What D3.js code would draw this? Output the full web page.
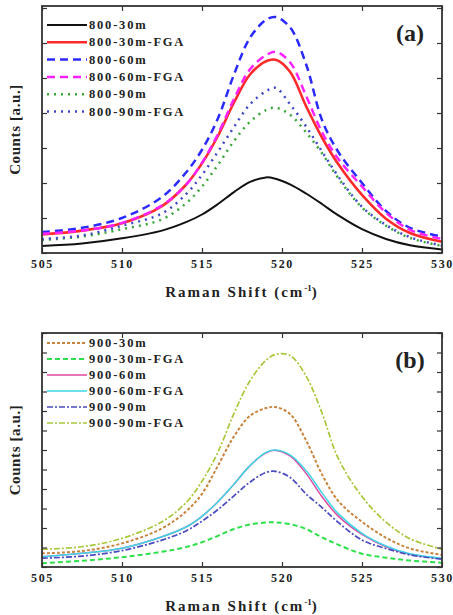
<!DOCTYPE html>
<html>
<head>
<meta charset="utf-8">
<script src="https://cdn.jsdelivr.net/npm/d3@7"></script>
<style>
  body { margin: 0; background: #fff; }
  svg text { font-family: "Liberation Serif", "Times New Roman", serif; font-weight: bold; fill: #222; }
</style>
</head>
<body>
<svg id="chart" width="453" height="615"></svg>
<script>
// Raman shift sample positions (cm^-1), shared by both panels
const ramanX = [505, 507.5, 510, 512.5, 514, 515, 516, 517, 518, 519, 519.6, 520.5, 521.5, 522.5, 523.5, 525, 526.5, 528, 530];

// panel (a) - 800 series, counts in a.u.
const s800_30m     = [0.20, 0.27, 0.42, 0.64, 0.88, 1.10, 1.40, 1.74, 2.03, 2.16, 2.12, 1.96, 1.70, 1.40, 1.08, 0.68, 0.40, 0.22, 0.10];
const s800_30mFGA  = [0.53, 0.64, 0.85, 1.34, 1.95, 2.56, 3.35, 4.30, 5.10, 5.48, 5.52, 5.18, 4.20, 3.30, 2.55, 1.66, 0.98, 0.57, 0.32];
const s800_60m     = [0.60, 0.72, 1.00, 1.60, 2.30, 2.95, 3.85, 5.10, 6.15, 6.66, 6.74, 6.45, 5.40, 3.80, 2.90, 2.00, 1.20, 0.72, 0.47];
const s800_60mFGA  = [0.55, 0.64, 0.86, 1.36, 1.95, 2.58, 3.40, 4.40, 5.25, 5.65, 5.75, 5.45, 4.50, 3.45, 2.70, 1.90, 1.15, 0.66, 0.40];
const s800_90m     = [0.37, 0.47, 0.68, 0.96, 1.42, 1.90, 2.52, 3.20, 3.75, 4.08, 4.15, 3.95, 3.45, 2.85, 2.15, 1.30, 0.78, 0.43, 0.20];
const s800_90mFGA  = [0.40, 0.50, 0.78, 1.13, 1.68, 2.23, 2.90, 3.60, 4.25, 4.62, 4.72, 4.25, 3.62, 2.90, 2.20, 1.32, 0.80, 0.45, 0.21];
const labelsA = ["800-30m", "800-30m-FGA", "800-60m", "800-60m-FGA", "800-90m", "800-90m-FGA"];

// panel (b) - 900 series
const s900_30m     = [0.70, 0.82, 1.21, 1.98, 2.85, 3.75, 5.20, 6.70, 7.75, 8.15, 8.20, 7.85, 6.50, 4.75, 3.40, 2.32, 1.50, 0.95, 0.62];
const s900_30mFGA  = [0.19, 0.32, 0.50, 0.78, 1.02, 1.27, 1.60, 1.95, 2.18, 2.28, 2.29, 2.20, 1.95, 1.52, 1.15, 0.68, 0.48, 0.33, 0.22];
const s900_60m     = [0.53, 0.70, 0.96, 1.55, 2.05, 2.60, 3.35, 4.25, 5.20, 5.85, 5.98, 5.70, 4.80, 3.60, 2.62, 1.67, 1.04, 0.65, 0.43];
const s900_60mFGA  = [0.53, 0.70, 0.96, 1.55, 2.05, 2.60, 3.35, 4.25, 5.20, 5.88, 6.00, 5.75, 4.95, 3.80, 2.75, 1.73, 1.08, 0.68, 0.45];
const s900_90m     = [0.45, 0.56, 0.84, 1.38, 1.85, 2.35, 2.95, 3.65, 4.35, 4.85, 4.90, 4.60, 3.75, 3.05, 2.30, 1.38, 0.95, 0.62, 0.40];
const s900_90mFGA  = [0.91, 1.04, 1.47, 2.32, 3.30, 4.40, 5.90, 7.88, 9.55, 10.6, 10.9, 10.85, 9.80, 7.90, 5.60, 3.61, 2.30, 1.45, 0.91];
const labelsB = ["900-30m", "900-30m-FGA", "900-60m", "900-60m-FGA", "900-90m", "900-90m-FGA"];

const xTicks = [505, 510, 515, 520, 525, 530];

const svg = d3.select("#chart");

function drawPanel(cfg) {
    const x = d3.scaleLinear().domain([505, 530]).range([cfg.left, cfg.right]);
    const y = d3.scaleLinear().domain([0, cfg.yMax]).range([cfg.bottom, cfg.top]);
    const g = svg.append("g");

    const clipId = "clip-" + cfg.tag;
    g.append("clipPath").attr("id", clipId)
        .append("rect")
        .attr("x", cfg.left).attr("y", cfg.top)
        .attr("width", cfg.right - cfg.left).attr("height", cfg.bottom - cfg.top);

    const line = d3.line()
        .x((d, i) => x(ramanX[i]))
        .y(d => y(d))
        .curve(d3.curveCatmullRom.alpha(0.5));

    g.append("g").attr("clip-path", `url(#${clipId})`)
        .selectAll("path")
        .data(cfg.series)
        .join("path")
        .attr("d", d => line(d.values))
        .attr("fill", "none")
        .attr("stroke", d => d.color)
        .attr("stroke-width", d => d.width)
        .attr("stroke-dasharray", d => d.dash)
        .attr("stroke-linecap", d => d.cap || "butt");

    // axes, ticks pointing inward
    const minorX = d3.range(505, 530.1, 2.5);
    const minorY = d3.range(0, cfg.yMax + 0.01, 0.5);
    const majorY = d3.range(0, cfg.yMax + 0.01, 1);

    const bottom = g.append("g").attr("transform", `translate(0,${cfg.bottom})`);
    bottom.call(d3.axisBottom(x).tickValues(minorX).tickSize(-3).tickFormat(""));
    bottom.call(d3.axisBottom(x).tickValues(xTicks).tickSize(-5).tickPadding(6).tickFormat(d3.format("d")));
    bottom.selectAll("text").attr("font-size", 12).attr("letter-spacing", 1.6).attr("fill", "#333");

    const top = g.append("g").attr("transform", `translate(0,${cfg.top})`);
    top.call(d3.axisTop(x).tickValues(minorX).tickSize(-3).tickFormat(""));
    top.call(d3.axisTop(x).tickValues(xTicks).tickSize(-5).tickFormat(""));

    const leftAx = g.append("g").attr("transform", `translate(${cfg.left},0)`);
    leftAx.call(d3.axisLeft(y).tickValues(minorY).tickSize(-3).tickFormat(""));
    leftAx.call(d3.axisLeft(y).tickValues(majorY).tickSize(-5).tickFormat(""));

    const rightAx = g.append("g").attr("transform", `translate(${cfg.right},0)`);
    rightAx.call(d3.axisRight(y).tickValues(minorY).tickSize(-3).tickFormat(""));
    rightAx.call(d3.axisRight(y).tickValues(majorY).tickSize(-5).tickFormat(""));

    g.selectAll(".domain").remove();
    g.selectAll(".tick line").attr("stroke", "#333").attr("stroke-width", 1.2);

    g.append("rect")
        .attr("x", cfg.left).attr("y", cfg.top)
        .attr("width", cfg.right - cfg.left).attr("height", cfg.bottom - cfg.top)
        .attr("fill", "none").attr("stroke", "#333").attr("stroke-width", 1.8);

    // legend
    const leg = g.append("g");
    cfg.series.forEach((s, i) => {
        const ly = cfg.legTop + i * cfg.legStep;
        leg.append("line")
            .attr("x1", 47).attr("x2", 87).attr("y1", ly).attr("y2", ly)
            .attr("stroke", s.color).attr("stroke-width", s.width)
            .attr("stroke-dasharray", s.dash).attr("stroke-linecap", s.cap || "butt");
        leg.append("text")
            .attr("x", 89).attr("y", ly + 4)
            .attr("font-size", 12.5).attr("letter-spacing", 1.8)
            .attr("fill", "#333")
            .text(s.label);
    });

    g.append("text")
        .attr("x", 410).attr("y", cfg.top + 35)
        .attr("text-anchor", "middle")
        .attr("font-size", 24)
        .text(cfg.tag === "a" ? "(a)" : "(b)");

    const xt = g.append("text")
        .attr("x", (cfg.left + cfg.right) / 2)
        .attr("y", cfg.bottom + 44)
        .attr("text-anchor", "middle")
        .attr("font-size", 15)
        .attr("letter-spacing", 2)
        .attr("fill", "#333");
    xt.append("tspan").text("Raman Shift (cm");
    xt.append("tspan").attr("dy", -6).attr("font-size", 9).attr("letter-spacing", 0).text("-1");
    xt.append("tspan").attr("dy", 6).text(")");

    g.append("text")
        .attr("transform", `translate(20,${(cfg.top + cfg.bottom) / 2}) rotate(-90)`)
        .attr("text-anchor", "middle")
        .attr("font-size", 15)
        .attr("letter-spacing", 0.6)
        .attr("fill", "#333")
        .text("Counts [a.u.]");
}

drawPanel({
    tag: "a", left: 42, right: 442, top: 6, bottom: 253, yMax: 247 / 35,
    legTop: 25, legStep: 17.3,
    series: [
        { label: labelsA[0], values: s800_30m,    color: "#111111", width: 2,   dash: null },
        { label: labelsA[1], values: s800_30mFGA, color: "#ff2a2a", width: 2.6, dash: null },
        { label: labelsA[2], values: s800_60m,    color: "#2b2bff", width: 2.5, dash: "8,5" },
        { label: labelsA[3], values: s800_60mFGA, color: "#ff22ff", width: 2.5, dash: "8,5" },
        { label: labelsA[4], values: s800_90m,    color: "#3aa63a", width: 2.5, dash: "2,5" },
        { label: labelsA[5], values: s800_90mFGA, color: "#4048c8", width: 2.5, dash: "2,5" }
    ]
});

drawPanel({
    tag: "b", left: 42, right: 442, top: 333, bottom: 567, yMax: 12,
    legTop: 343, legStep: 16,
    series: [
        { label: labelsB[0], values: s900_30m,    color: "#c8843c", width: 2,   dash: "3,2" },
        { label: labelsB[1], values: s900_30mFGA, color: "#2ee04a", width: 2,   dash: "5,3" },
        { label: labelsB[2], values: s900_60m,    color: "#e04aa0", width: 1.5, dash: null },
        { label: labelsB[3], values: s900_60mFGA, color: "#3cd8e8", width: 1.5, dash: null },
        { label: labelsB[4], values: s900_90m,    color: "#4a4ac0", width: 1.7, dash: "6,2,2,2" },
        { label: labelsB[5], values: s900_90mFGA, color: "#a8c83a", width: 1.7, dash: "6,2,2,2" }
    ]
});
</script>
</body>
</html>
